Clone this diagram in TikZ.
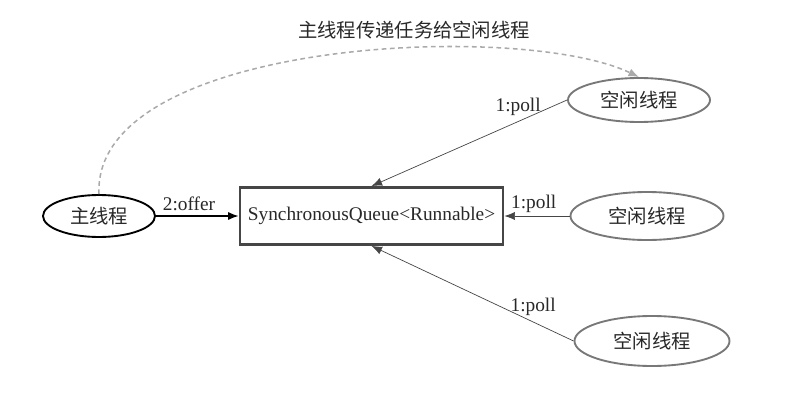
\documentclass[tikz,border=0pt]{standalone}
\usepackage{fontspec}
\setmainfont{Liberation Serif}
\newfontfamily\cjk{Noto Sans CJK SC}
\usepackage{tikz}
\usetikzlibrary{shapes,arrows.meta,positioning,calc}
\definecolor{edgegray}{RGB}{70,70,70}
\definecolor{ringgray}{RGB}{120,120,120}
\definecolor{dashgray}{RGB}{170,170,170}
\definecolor{txtgray}{RGB}{40,40,40}

\begin{document}
\begin{tikzpicture}[
    x=0.03cm, y=-0.03cm,
    font=\fontsize{16.5}{19}\selectfont,
    thr/.style={ellipse, draw=ringgray, line width=1.6pt, inner sep=0pt, text=txtgray},
    mainthr/.style={thr, draw=black},
    q/.style={rectangle, draw=edgegray, line width=2.4pt, minimum width=263*0.03cm, minimum height=57*0.03cm, text=txtgray},
    ev/.style={-{Latex[length=9pt,width=7pt]}, edgegray, line width=0.6pt},
    put/.style={ev, black, line width=1.2pt},
    hand/.style={-{Latex[length=9pt,width=7pt]}, dashgray, line width=1.3pt, dash pattern=on 4pt off 3pt},
    lbl/.style={text=txtgray, inner sep=1pt}
]
\useasboundingbox (0,0) rectangle (803,417);
\node[mainthr, minimum width=112*0.03cm, minimum height=42*0.03cm] (m) at (99,216) {\cjk 主线程};
\node[q] (sq) at (371.5,216) {SynchronousQueue<Runnable>};
\node[thr, minimum width=142*0.03cm, minimum height=44*0.03cm] (t1) at (639,100) {\cjk 空闲线程};
\node[thr, minimum width=153*0.03cm, minimum height=48*0.03cm] (t2) at (647,216) {\cjk 空闲线程};
\node[thr, minimum width=155*0.03cm, minimum height=50*0.03cm] (t3) at (652,341) {\cjk 空闲线程};
\node[lbl] (ttl) at (414,30) {\cjk 主线程传递任务给空闲线程};
\draw[put] (m.east) -- node[lbl, above=3pt, pos=0.4]{2:offer} (sq.west);
\draw[ev] (t1.west) -- node[lbl, above=4pt, pos=0.25]{1:poll} (sq.north);
\draw[ev] (t2.west) -- node[lbl, above=2pt, pos=0.55]{1:poll} (sq.east);
\draw[ev] (t3.west) -- node[lbl, above=4pt, pos=0.2]{1:poll} (sq.south);
\draw[hand] (m.north) .. controls (92,40) and (520,20) .. (t1.north);
\end{tikzpicture}
\end{document}
